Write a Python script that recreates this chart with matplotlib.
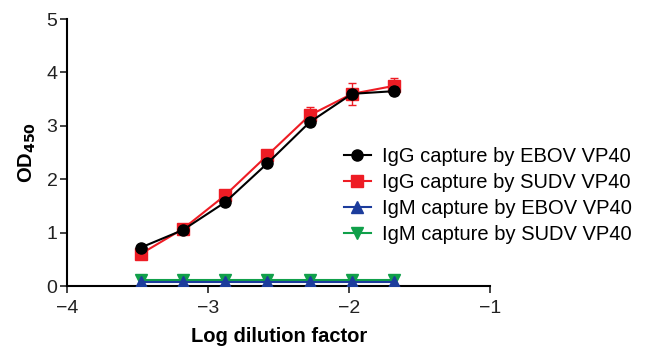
import matplotlib.pyplot as plt

# log dilution factor (two-fold dilutions)
log_dil = [-3.48, -3.18, -2.88, -2.58, -2.28, -1.98, -1.68]

igg_ebov = [0.72, 1.05, 1.57, 2.30, 3.07, 3.60, 3.65]
igg_ebov_err = [0.04, 0.03, 0.04, 0.05, 0.08, 0.08, 0.08]
igg_sudv = [0.60, 1.07, 1.70, 2.45, 3.20, 3.60, 3.75]
igg_sudv_err = [0.04, 0.04, 0.05, 0.06, 0.15, 0.20, 0.15]
igm_ebov = [0.08, 0.08, 0.08, 0.08, 0.08, 0.08, 0.08]
igm_sudv = [0.12, 0.12, 0.12, 0.12, 0.12, 0.12, 0.12]

labels = ['IgG capture by EBOV VP40', 'IgG capture by SUDV VP40',
          'IgM capture by EBOV VP40', 'IgM capture by SUDV VP40']

plt.rcParams['font.family'] = ['Liberation Sans', 'DejaVu Sans']

fig = plt.figure(figsize=(6.52, 3.46), dpi=100)
ax = fig.add_axes([0.103, 0.173, 0.649, 0.772])

ax.errorbar(log_dil, igm_sudv, color='#10a04a', marker='v', ms=8, lw=1.5,
            label=labels[3], zorder=2)
ax.errorbar(log_dil, igm_ebov, color='#1c3c9c', marker='^', ms=8, lw=1.5,
            label=labels[2], zorder=3)
ax.errorbar(log_dil, igg_sudv, yerr=igg_sudv_err, color='#ee1c24', marker='s',
            ms=8, lw=1.5, capsize=3, elinewidth=1, label=labels[1], zorder=4)
ax.errorbar(log_dil, igg_ebov, yerr=igg_ebov_err, color='black', marker='o',
            ms=8, lw=1.5, capsize=3, elinewidth=1, label=labels[0], zorder=5)

ax.set_xlim(-4, -1)
ax.set_ylim(0, 5)
ax.set_xticks([-4, -3, -2, -1])
ax.set_xticklabels(['\u22124', '\u22123', '\u22122', '\u22121'])
ax.set_yticks([0, 1, 2, 3, 4, 5])
ax.spines['top'].set_visible(False)
ax.spines['right'].set_visible(False)
ax.spines['left'].set_linewidth(1.5)
ax.spines['bottom'].set_linewidth(1.5)
ax.tick_params(direction='out', width=1.2, length=5, labelsize=14,
               colors='#222222')
ax.tick_params(axis='x', pad=5)
ax.tick_params(axis='y', pad=2)
ax.set_xlabel('Log dilution factor', fontsize=14.5, fontweight='bold', labelpad=7)
ax.set_ylabel('OD$_{\\mathbf{450}}$', fontsize=14.5, fontweight='bold', labelpad=6)

# legend shows only line+marker, no error bars
handles, labs = ax.get_legend_handles_labels()
order = [3, 2, 1, 0]
ax.legend([handles[i][0] for i in order], [labs[i] for i in order],
          loc='center left', bbox_to_anchor=(0.527, 0.436),
          bbox_transform=fig.transFigure, borderaxespad=0, borderpad=0,
          frameon=False, fontsize=14.5, handlelength=1.35, labelspacing=0.35,
          handletextpad=0.55)

fig.savefig('out.png', dpi=100)
